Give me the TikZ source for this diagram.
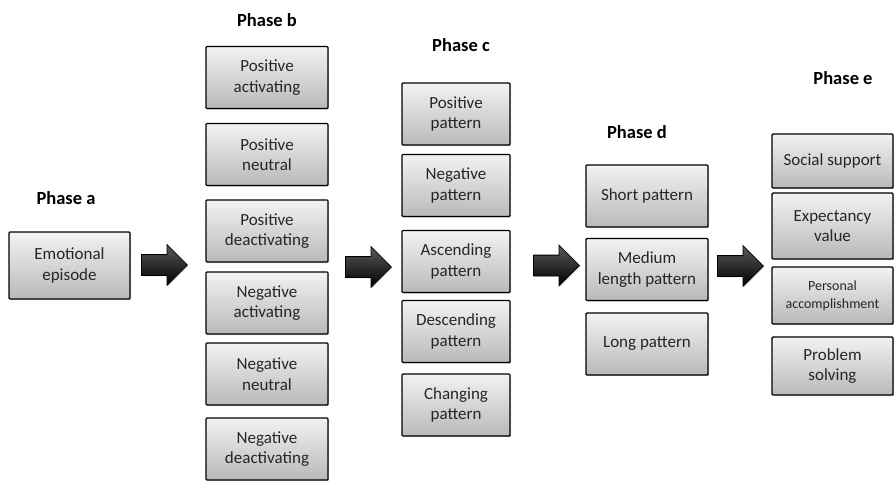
\documentclass[tikz,border=0pt]{standalone}
\usepackage{fontspec}
\setmainfont{Carlito}
\usetikzlibrary{shapes.arrows,shadows}
\tikzset{
  bx/.style={draw=black, line width=1.4pt, rounded corners=1pt, align=center,
    top color=gray!10, bottom color=gray!55, inner sep=1pt,
    drop shadow={opacity=0.35, shadow xshift=1.2pt, shadow yshift=-1.2pt},
    font=\fontsize{17}{20.5}\selectfont, text=black!85},
  phase/.style={font=\bfseries\fontsize{18.5}{21}\selectfont},
  blockarrow/.style={single arrow, draw=black, line width=0.8pt, anchor=west,
    minimum height=46pt, single arrow head extend=10pt,
    inner xsep=0pt, inner ysep=10pt, shape border rotate=0,
    top color=gray!70!black, bottom color=black,
    drop shadow={opacity=0.3, shadow xshift=1pt, shadow yshift=-1pt}}
}
\begin{document}
\begin{tikzpicture}[x=1pt,y=-1pt]
\useasboundingbox (0,0) rectangle (895,480);
% labels
\node[phase] (la) at (66,198) {Phase a};
\node[phase] (lb) at (267,20) {Phase b};
\node[phase] (lc) at (461,45) {Phase c};
\node[phase] (ld) at (637,132) {Phase d};
\node[phase] (le) at (843,78) {Phase e};
% phase a
\node[bx, minimum width=121pt, minimum height=67pt] (a1) at (69.5,265.5) {Emotional\\episode};
% phase b
\begin{scope}[every node/.append style={bx, minimum width=122pt, minimum height=62pt}]
\node (b1) at (267,77.5) {Positive\\activating};
\node (b2) at (267,154.5) {Positive\\neutral};
\node (b3) at (267,231) {Positive\\deactivating};
\node (b4) at (267,303) {Negative\\activating};
\node (b5) at (267,374) {Negative\\neutral};
\node (b6) at (267,449) {Negative\\deactivating};
\end{scope}
% phase c
\begin{scope}[every node/.append style={bx, minimum width=108pt, minimum height=62pt}]
\node (c1) at (456,114) {Positive\\pattern};
\node (c2) at (456,185.5) {Negative\\pattern};
\node (c3) at (456,261.5) {Ascending\\pattern};
\node (c4) at (456,331.5) {Descending\\pattern};
\node (c5) at (456,405) {Changing\\pattern};
\end{scope}
% phase d
\begin{scope}[every node/.append style={bx, minimum width=122pt, minimum height=62pt}]
\node (d1) at (647,196) {Short pattern};
\node (d2) at (647,269.5) {Medium\\length pattern};
\node (d3) at (647,344) {Long pattern};
\end{scope}
% phase e
\begin{scope}[every node/.append style={bx, minimum width=121pt}]
\node[minimum height=54pt] (e1) at (832.5,161) {Social support};
\node[minimum height=66pt] (e2) at (832.5,226) {Expectancy\\value};
\node[minimum height=57pt, font=\fontsize{14}{18}\selectfont] (e3) at (832.5,295.5) {Personal\\accomplishment};
\node[minimum height=58pt] (e4) at (832.5,366) {Problem\\solving};
\end{scope}
% block arrows
\node[blockarrow] (ar1) at (141,265) {};
\node[blockarrow] (ar2) at (345,267) {};
\node[blockarrow] (ar3) at (533,265.5) {};
\node[blockarrow] (ar4) at (717,266) {};
\end{tikzpicture}
\end{document}
